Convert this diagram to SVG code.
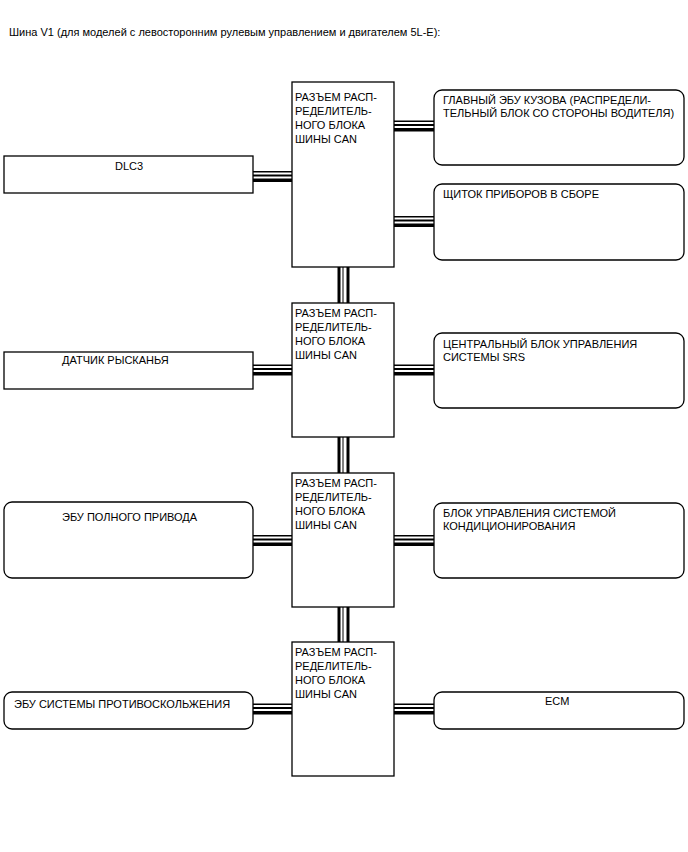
<svg xmlns="http://www.w3.org/2000/svg" width="688" height="852" viewBox="0 0 688 852">
<style>
text{font-family:"Liberation Sans",Arial,sans-serif;font-size:11px;fill:#000}
.b{fill:#fff;stroke:#000;stroke-width:1.3}
.k{stroke:#000;fill:none}
.w{stroke:#fff;fill:none}
</style>
<rect width="688" height="852" fill="#fff"/>
<text x="9" y="36">Шина V1 (для моделей с левосторонним рулевым управлением и двигателем 5L-E):</text>

<g id="connectors">
  <!-- vertical between hubs -->
  <g id="v1"><line class="k" x1="343.5" y1="267" x2="343.5" y2="303" stroke-width="12"/><line class="w" x1="341.5" y1="267" x2="341.5" y2="303" stroke-width="2"/><line class="w" x1="345" y1="267" x2="345" y2="303" stroke-width="3"/></g>
  <g id="v2"><line class="k" x1="343.5" y1="437" x2="343.5" y2="473" stroke-width="12"/><line class="w" x1="341.5" y1="437" x2="341.5" y2="473" stroke-width="2"/><line class="w" x1="345" y1="437" x2="345" y2="473" stroke-width="3"/></g>
  <g id="v3"><line class="k" x1="343.5" y1="607" x2="343.5" y2="642" stroke-width="12"/><line class="w" x1="341.5" y1="607" x2="341.5" y2="642" stroke-width="2"/><line class="w" x1="345" y1="607" x2="345" y2="642" stroke-width="3"/></g>
  <!-- horizontal -->
  <g id="h-dlc3"><line class="k" x1="253" y1="176.5" x2="292" y2="176.5" stroke-width="11"/><line class="w" x1="253" y1="173.5" x2="292" y2="173.5" stroke-width="2"/><line class="w" x1="253" y1="177.5" x2="292" y2="177.5" stroke-width="2"/></g>
  <g id="h-kuzov"><line class="k" x1="394" y1="126" x2="434" y2="126" stroke-width="11"/><line class="w" x1="394" y1="123" x2="434" y2="123" stroke-width="2"/><line class="w" x1="394" y1="127" x2="434" y2="127" stroke-width="2"/></g>
  <g id="h-shchitok"><line class="k" x1="394" y1="221.5" x2="434" y2="221.5" stroke-width="11"/><line class="w" x1="394" y1="218.5" x2="434" y2="218.5" stroke-width="2"/><line class="w" x1="394" y1="222.5" x2="434" y2="222.5" stroke-width="2"/></g>
  <g id="h-datchik"><line class="k" x1="253" y1="370" x2="292" y2="370" stroke-width="11"/><line class="w" x1="253" y1="367" x2="292" y2="367" stroke-width="2"/><line class="w" x1="253" y1="371" x2="292" y2="371" stroke-width="2"/></g>
  <g id="h-srs"><line class="k" x1="394" y1="370" x2="434" y2="370" stroke-width="11"/><line class="w" x1="394" y1="367" x2="434" y2="367" stroke-width="2"/><line class="w" x1="394" y1="371" x2="434" y2="371" stroke-width="2"/></g>
  <g id="h-4wd"><line class="k" x1="253" y1="540.5" x2="292" y2="540.5" stroke-width="11"/><line class="w" x1="253" y1="537.5" x2="292" y2="537.5" stroke-width="2"/><line class="w" x1="253" y1="541.5" x2="292" y2="541.5" stroke-width="2"/></g>
  <g id="h-ac"><line class="k" x1="394" y1="540.5" x2="434" y2="540.5" stroke-width="11"/><line class="w" x1="394" y1="537.5" x2="434" y2="537.5" stroke-width="2"/><line class="w" x1="394" y1="541.5" x2="434" y2="541.5" stroke-width="2"/></g>
  <g id="h-abs"><line class="k" x1="253" y1="709" x2="292" y2="709" stroke-width="11"/><line class="w" x1="253" y1="706" x2="292" y2="706" stroke-width="2"/><line class="w" x1="253" y1="710" x2="292" y2="710" stroke-width="2"/></g>
  <g id="h-ecm"><line class="k" x1="394" y1="709" x2="434" y2="709" stroke-width="11"/><line class="w" x1="394" y1="706" x2="434" y2="706" stroke-width="2"/><line class="w" x1="394" y1="710" x2="434" y2="710" stroke-width="2"/></g>
</g>

<g id="hub1"><rect class="b" x="292" y="82" width="102" height="185"/>
<text x="295" y="101">РАЗЪЕМ РАСП-</text><text x="295" y="115">РЕДЕЛИТЕЛЬ-</text><text x="295" y="129">НОГО БЛОКА</text><text x="295" y="143">ШИНЫ CAN</text></g>
<g id="hub2"><rect class="b" x="292" y="303" width="102" height="134"/>
<text x="295" y="317">РАЗЪЕМ РАСП-</text><text x="295" y="331">РЕДЕЛИТЕЛЬ-</text><text x="295" y="345">НОГО БЛОКА</text><text x="295" y="359">ШИНЫ CAN</text></g>
<g id="hub3"><rect class="b" x="292" y="473" width="102" height="134"/>
<text x="295" y="487">РАЗЪЕМ РАСП-</text><text x="295" y="501">РЕДЕЛИТЕЛЬ-</text><text x="295" y="515">НОГО БЛОКА</text><text x="295" y="529">ШИНЫ CAN</text></g>
<g id="hub4"><rect class="b" x="292" y="642" width="102" height="134"/>
<text x="295" y="656">РАЗЪЕМ РАСП-</text><text x="295" y="670">РЕДЕЛИТЕЛЬ-</text><text x="295" y="684">НОГО БЛОКА</text><text x="295" y="698">ШИНЫ CAN</text></g>

<g id="dlc3"><rect class="b" x="4" y="156" width="249" height="37"/><text x="115" y="170">DLC3</text></g>
<g id="datchik"><rect class="b" x="4" y="352" width="249" height="37"/><text x="62" y="364">ДАТЧИК РЫСКАНЬЯ</text></g>
<g id="ebu4wd"><rect class="b" x="4" y="502" width="249" height="76" rx="8"/><text x="62" y="521">ЭБУ ПОЛНОГО ПРИВОДА</text></g>
<g id="ebuabs"><rect class="b" x="4" y="692" width="249" height="37" rx="8"/><text x="14" y="708">ЭБУ СИСТЕМЫ ПРОТИВОСКОЛЬЖЕНИЯ</text></g>

<g id="kuzov"><rect class="b" x="434" y="90" width="250" height="75" rx="8"/><text x="443" y="104">ГЛАВНЫЙ ЭБУ КУЗОВА (РАСПРЕДЕЛИ-</text><text x="443" y="117">ТЕЛЬНЫЙ БЛОК СО СТОРОНЫ ВОДИТЕЛЯ)</text></g>
<g id="shchitok"><rect class="b" x="434" y="184" width="250" height="76" rx="8"/><text x="443" y="198">ЩИТОК ПРИБОРОВ В СБОРЕ</text></g>
<g id="srs"><rect class="b" x="434" y="333" width="250" height="75" rx="8"/><text x="443" y="348">ЦЕНТРАЛЬНЫЙ БЛОК УПРАВЛЕНИЯ</text><text x="443" y="361">СИСТЕМЫ SRS</text></g>
<g id="ac"><rect class="b" x="434" y="503" width="250" height="75" rx="8"/><text x="443" y="517">БЛОК УПРАВЛЕНИЯ СИСТЕМОЙ</text><text x="443" y="530">КОНДИЦИОНИРОВАНИЯ</text></g>
<g id="ecm"><rect class="b" x="434" y="692" width="250" height="37" rx="8"/><text x="545" y="705">ECM</text></g>
</svg>
